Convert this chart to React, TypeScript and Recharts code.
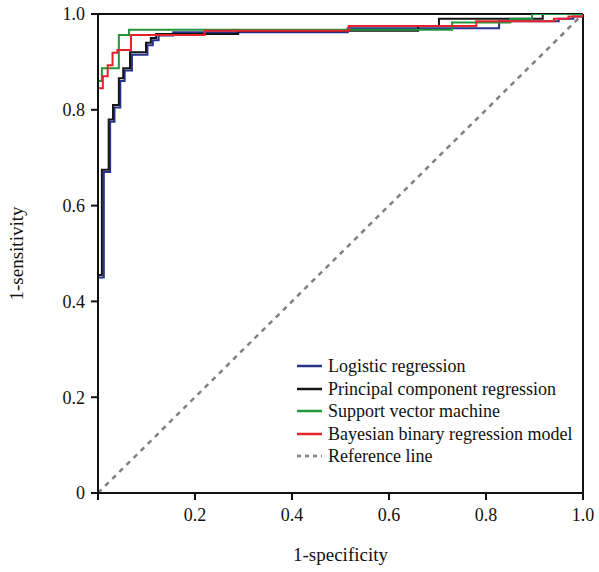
import React from 'react';
import { LineChart, Line, XAxis, YAxis, ReferenceLine } from 'recharts';

const logisticFpr = [0, 0, 0.012, 0.025, 0.034, 0.046, 0.055, 0.07, 0.102, 0.113, 0.125, 0.155, 0.515, 0.827, 0.95, 0.98, 1];
const logisticTpr = [0, 0.45, 0.67, 0.775, 0.805, 0.86, 0.882, 0.915, 0.935, 0.945, 0.955, 0.962, 0.97, 0.985, 0.99, 0.995, 1];

const pcrFpr = [0, 0, 0.008, 0.022, 0.031, 0.043, 0.052, 0.066, 0.099, 0.109, 0.12, 0.289, 0.66, 0.703, 0.917, 1];
const pcrTpr = [0, 0.455, 0.675, 0.78, 0.81, 0.866, 0.887, 0.92, 0.94, 0.95, 0.958, 0.965, 0.975, 0.99, 1.0, 1];

const svmFpr = [0, 0, 0.008, 0.043, 0.064, 0.73, 0.85, 0.895, 1];
const svmTpr = [0, 0.86, 0.887, 0.956, 0.967, 0.982, 0.99, 1.0, 1];

const bayesFpr = [0, 0, 0.01, 0.02, 0.03, 0.04, 0.068, 0.22, 0.517, 0.78, 0.94, 0.97, 1];
const bayesTpr = [0, 0.845, 0.87, 0.893, 0.919, 0.925, 0.956, 0.965, 0.975, 0.985, 0.99, 0.995, 1];

const refFpr = [0, 1];
const refTpr = [0, 1];

const xTicks = [0, 0.2, 0.4, 0.6, 0.8, 1.0];
const yTicks = [0, 0.2, 0.4, 0.6, 0.8, 1.0];

const seriesNames = [
  'Logistic regression',
  'Principal component regression',
  'Support vector machine',
  'Bayesian binary regression model',
  'Reference line',
];
const seriesColors = ['#27338a', '#151515', '#22963a', '#e5232b', '#808080'];

const toPoints = (xs: number[], ys: number[]) => xs.map((x, i) => ({ x, y: ys[i] }));

const FONT = "'Liberation Serif', 'Times New Roman', serif";

const fmtY = (v: number) => (v === 0 ? '0' : v.toFixed(1));
const fmtX = (v: number) => (v === 0 ? '' : v.toFixed(1));

const LegendBox = () => (
  <div
    style={{
      position: 'absolute',
      left: 297,
      top: 355,
      fontFamily: FONT,
      fontSize: 18,
      color: '#111',
      lineHeight: '22.5px',
    }}
  >
    {seriesNames.map((name, i) => (
      <div key={name} style={{ display: 'flex', alignItems: 'center', height: 22.5, whiteSpace: 'nowrap' }}>
        <svg width={31} height={10}>
          <line
            x1={0}
            y1={5}
            x2={25}
            y2={5}
            stroke={seriesColors[i]}
            strokeWidth={2.5}
            strokeDasharray={i === 4 ? '4 4' : undefined}
          />
        </svg>
        <span>{name}</span>
      </div>
    ))}
  </div>
);

export default function App() {
  const axisTick = { fontFamily: FONT, fontSize: 18, fill: '#111' };
  return (
    <div style={{ position: 'absolute', left: 0, top: 0, width: 599, height: 572, background: '#fff' }}>
      <LineChart width={599} height={572} margin={{ top: 14, right: 16, left: 38, bottom: 39 }}>
        <XAxis
          type="number"
          dataKey="x"
          domain={[0, 1]}
          ticks={xTicks}
          tickFormatter={fmtX}
          allowDataOverflow
          height={40}
          stroke="#111"
          strokeWidth={2}
          tickSize={7}
          tickMargin={8}
          tick={axisTick}
          tickLine={{ stroke: '#111', strokeWidth: 2 }}
          label={{ value: '1-specificity', position: 'insideBottom', offset: -28, style: { fontFamily: FONT, fontSize: 19, fill: '#111' } }}
        />
        <YAxis
          type="number"
          dataKey="y"
          domain={[0, 1]}
          ticks={yTicks}
          tickFormatter={fmtY}
          allowDataOverflow
          width={60}
          stroke="#111"
          strokeWidth={2}
          tickSize={7}
          tickMargin={6}
          tick={axisTick}
          tickLine={{ stroke: '#111', strokeWidth: 2 }}
          label={{ value: '1-sensitivity', angle: -90, position: 'insideLeft', offset: -22, style: { fontFamily: FONT, fontSize: 19, fill: '#111', textAnchor: 'middle' } }}
        />
        <ReferenceLine x={1} stroke="#111" strokeWidth={2} ifOverflow="visible" />
        <ReferenceLine y={1} stroke="#111" strokeWidth={2} ifOverflow="visible" />
        <Line
          data={toPoints(refFpr, refTpr)}
          dataKey="y"
          type="linear"
          stroke={seriesColors[4]}
          strokeWidth={2.5}
          strokeDasharray="5 5"
          dot={false}
          isAnimationActive={false}
          name={seriesNames[4]}
        />
        <Line
          data={toPoints(logisticFpr, logisticTpr)}
          dataKey="y"
          type="stepAfter"
          stroke={seriesColors[0]}
          strokeWidth={2}
          dot={false}
          isAnimationActive={false}
          name={seriesNames[0]}
        />
        <Line
          data={toPoints(pcrFpr, pcrTpr)}
          dataKey="y"
          type="stepAfter"
          stroke={seriesColors[1]}
          strokeWidth={2}
          dot={false}
          isAnimationActive={false}
          name={seriesNames[1]}
        />
        <Line
          data={toPoints(svmFpr, svmTpr)}
          dataKey="y"
          type="stepAfter"
          stroke={seriesColors[2]}
          strokeWidth={2}
          dot={false}
          isAnimationActive={false}
          name={seriesNames[2]}
        />
        <Line
          data={toPoints(bayesFpr, bayesTpr)}
          dataKey="y"
          type="stepAfter"
          stroke={seriesColors[3]}
          strokeWidth={2}
          dot={false}
          isAnimationActive={false}
          name={seriesNames[3]}
        />
      </LineChart>
      <LegendBox />
    </div>
  );
}
